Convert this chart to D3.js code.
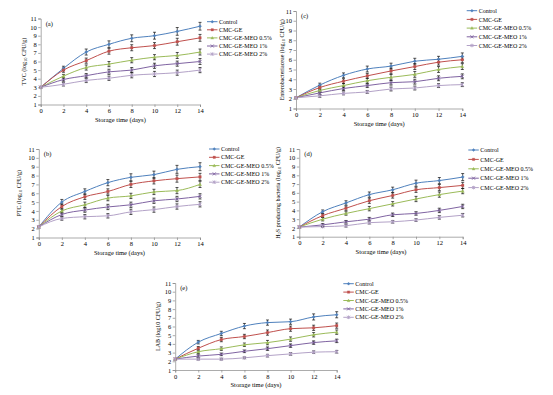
<!DOCTYPE html>
<html>
<head>
<script src="https://d3js.org/d3.v7.min.js"></script>
<style>
  body { margin: 0; background: #fff; }
  text { font-family: "Liberation Serif", "DejaVu Serif", serif; fill: #000; }
</style>
</head>
<body>
<div id="target"></div>
<script>
var days = [0, 2, 4, 6, 8, 10, 12, 14];
var seriesNames = ["Control", "CMC-GE", "CMC-GE-MEO 0.5%", "CMC-GE-MEO 1%", "CMC-GE-MEO 2%"];
var yTicks = [1, 2, 3, 4, 5, 6, 7, 8, 9, 10, 11];

// (a) TVC
var tvc = [
    [3.0, 5.2, 7.1, 8.0, 8.7, 9.0, 9.5, 10.1],
    [3.0, 5.0, 6.1, 7.2, 7.6, 7.85, 8.3, 8.75],
    [3.0, 4.3, 5.3, 5.7, 6.15, 6.5, 6.7, 7.1],
    [3.0, 3.9, 4.35, 4.8, 5.0, 5.5, 5.75, 6.0],
    [3.0, 3.35, 3.8, 4.05, 4.4, 4.55, 4.7, 5.0]
];
var tvcErr = [
    [0.1, 0.25, 0.35, 0.4, 0.4, 0.4, 0.45, 0.45],
    [0.1, 0.25, 0.3, 0.35, 0.35, 0.35, 0.4, 0.4],
    [0.1, 0.2, 0.3, 0.3, 0.3, 0.3, 0.35, 0.35],
    [0.1, 0.2, 0.25, 0.3, 0.3, 0.3, 0.3, 0.35],
    [0.1, 0.2, 0.25, 0.25, 0.3, 0.3, 0.3, 0.3]
];

// (b) PTC
var ptc = [
    [2.2, 5.0, 6.2, 7.2, 7.8, 8.1, 8.7, 9.0],
    [2.2, 4.5, 5.6, 6.2, 7.0, 7.4, 7.65, 7.85],
    [2.2, 4.0, 4.7, 5.45, 5.7, 6.15, 6.3, 7.0],
    [2.2, 3.6, 4.1, 4.45, 4.7, 5.15, 5.35, 5.65],
    [2.2, 3.15, 3.35, 3.45, 3.9, 4.15, 4.5, 4.75]
];
var ptcErr = [
    [0.1, 0.3, 0.3, 0.35, 0.4, 0.4, 0.45, 0.45],
    [0.1, 0.3, 0.3, 0.3, 0.35, 0.35, 0.4, 0.4],
    [0.1, 0.25, 0.3, 0.3, 0.3, 0.3, 0.35, 0.35],
    [0.1, 0.25, 0.25, 0.3, 0.3, 0.3, 0.3, 0.3],
    [0.1, 0.2, 0.25, 0.25, 0.3, 0.3, 0.3, 0.3]
];

// (c) Enterobacteriaceae
var entero = [
    [2.1, 3.4, 4.4, 5.05, 5.35, 5.85, 6.05, 6.35],
    [2.1, 3.15, 3.8, 4.35, 4.85, 5.3, 5.75, 6.0],
    [2.1, 2.85, 3.35, 3.85, 4.2, 4.5, 5.0, 5.3],
    [2.1, 2.6, 3.05, 3.35, 3.65, 3.75, 4.1, 4.3],
    [2.1, 2.3, 2.55, 2.7, 3.0, 3.1, 3.35, 3.45]
];
var enteroErr = [
    [0.1, 0.2, 0.25, 0.3, 0.3, 0.3, 0.3, 0.35],
    [0.1, 0.2, 0.25, 0.25, 0.3, 0.3, 0.3, 0.3],
    [0.1, 0.2, 0.2, 0.25, 0.3, 0.3, 0.3, 0.3],
    [0.1, 0.2, 0.2, 0.2, 0.25, 0.25, 0.25, 0.25],
    [0.1, 0.15, 0.15, 0.15, 0.2, 0.2, 0.2, 0.2]
];

// (d) H2S producing bacteria
var h2s = [
    [2.1, 3.85, 4.85, 5.8, 6.35, 7.1, 7.4, 7.8],
    [2.1, 3.4, 4.25, 5.1, 5.7, 6.35, 6.6, 6.85],
    [2.1, 3.0, 3.65, 4.2, 4.75, 5.3, 5.8, 6.2],
    [2.1, 2.35, 2.7, 3.0, 3.5, 3.65, 4.0, 4.45],
    [2.1, 2.15, 2.25, 2.6, 2.7, 2.9, 3.2, 3.45]
];
var h2sErr = [
    [0.1, 0.2, 0.25, 0.3, 0.3, 0.35, 0.35, 0.4],
    [0.1, 0.2, 0.25, 0.3, 0.3, 0.3, 0.35, 0.35],
    [0.1, 0.2, 0.2, 0.25, 0.25, 0.3, 0.3, 0.3],
    [0.1, 0.15, 0.15, 0.2, 0.2, 0.2, 0.25, 0.25],
    [0.1, 0.1, 0.15, 0.15, 0.15, 0.15, 0.2, 0.2]
];

// (e) LAB
var lab = [
    [2.25, 4.2, 5.2, 6.05, 6.45, 6.55, 7.1, 7.35],
    [2.25, 3.5, 4.5, 4.85, 5.3, 5.75, 5.85, 6.1],
    [2.25, 3.1, 3.45, 3.9, 4.15, 4.55, 5.05, 5.35],
    [2.25, 2.6, 2.8, 3.15, 3.45, 3.8, 4.15, 4.35],
    [2.25, 2.25, 2.25, 2.4, 2.65, 2.85, 3.05, 3.1]
];
var labErr = [
    [0.1, 0.2, 0.25, 0.3, 0.3, 0.3, 0.35, 0.35],
    [0.1, 0.2, 0.25, 0.25, 0.3, 0.3, 0.3, 0.3],
    [0.1, 0.2, 0.2, 0.2, 0.25, 0.25, 0.25, 0.25],
    [0.1, 0.15, 0.15, 0.15, 0.2, 0.2, 0.2, 0.2],
    [0.1, 0.1, 0.1, 0.1, 0.15, 0.15, 0.15, 0.15]
];

var colors = ["#4F81BD", "#C0504D", "#9BBB59", "#8064A2", "#B3A2C7"];

var svg = d3.select('#target')
    .append('svg')
    .attr('width', 553)
    .attr('height', 395);

var panels = [
    {tag: "(a)", data: tvc, err: tvcErr, x0: 40.7, x1: 200, top: 18.5, bot: 104.5,
     legX: 207, legY: 21.7, legDy: 8.1, yLabX: 25.5, yLab: ["TVC (log", "10", " CFU/g)"]},
    {tag: "(b)", data: ptc, err: ptcErr, x0: 38.8, x1: 200, top: 149, bot: 237.5,
     legX: 209, legY: 149, legDy: 8.3, yLabX: 20.5, yLab: ["PTC  (log", "10", " CFU/g)"]},
    {tag: "(c)", data: entero, err: enteroErr, x0: 296, x1: 462.3, top: 11, bot: 108.5,
     legX: 466.7, legY: 10.7, legDy: 8.7, yLabX: 283.5, yLab: ["Enterobacteriaceae (log", "10", " CFU/g)"]},
    {tag: "(d)", data: h2s, err: h2sErr, x0: 299.3, x1: 462.7, top: 149, bot: 236.7,
     legX: 468.3, legY: 150, legDy: 9.4, yLabX: 279.5, yLab: ["H", "2", "S producing bacteria (log", "10", " CFU/g)"]},
    {tag: "(e)", data: lab, err: labErr, x0: 175.2, x1: 336.7, top: 283, bot: 370,
     legX: 343.3, legY: 283.7, legDy: 8.4, yLabX: 159.5, yLab: ["LAB (log10 CFU/g)"]}
];

function markerPath(i, size) {
    var s = size;
    if (i === 0) return "M0," + (-s) + "L" + s + ",0L0," + s + "L" + (-s) + ",0Z";
    if (i === 1) return "M" + (-s * 0.8) + "," + (-s * 0.8) + "h" + (s * 1.6) + "v" + (s * 1.6) + "h" + (-s * 1.6) + "Z";
    if (i === 2) return "M0," + (-s) + "L" + s + "," + (s * 0.8) + "L" + (-s) + "," + (s * 0.8) + "Z";
    if (i === 3) return "M" + (-s) + "," + (-s) + "L" + s + "," + s + "M" + s + "," + (-s) + "L" + (-s) + "," + s;
    return "M" + (-s) + "," + (-s) + "L" + s + "," + s + "M" + s + "," + (-s) + "L" + (-s) + "," + s + "M0," + (-s * 1.2) + "V" + (s * 1.2);
}

function drawMarker(g, i, x, y, size) {
    var p = g.append('path')
        .attr('transform', 'translate(' + x + ',' + y + ')')
        .attr('d', markerPath(i, size));
    if (i >= 3) {
        p.attr('fill', 'none').attr('stroke', colors[i]).attr('stroke-width', 0.9);
    } else {
        p.attr('fill', colors[i]).attr('stroke', colors[i]).attr('stroke-width', 0.3);
    }
}

panels.forEach(function(p) {
    var x = d3.scaleLinear().domain([0, 14]).range([p.x0, p.x1]);
    var y = d3.scaleLinear().domain([1, 11]).range([p.bot, p.top]);
    var g = svg.append('g');

    // axes
    var xAxis = g.append('g')
        .attr('transform', 'translate(0,' + p.bot + ')')
        .call(d3.axisBottom(x).tickValues(days).tickSize(2.5).tickPadding(1.5));
    var yAxis = g.append('g')
        .attr('transform', 'translate(' + p.x0 + ',0)')
        .call(d3.axisLeft(y).tickValues(yTicks).tickSize(2.5).tickPadding(1.5));
    [xAxis, yAxis].forEach(function(a) {
        a.selectAll('path, line').attr('stroke', '#888').attr('stroke-width', 0.7);
        a.selectAll('text').style('font-size', '6.5px').style('font-family', '"Liberation Serif", serif');
    });

    // x label
    g.append('text')
        .attr('x', (p.x0 + p.x1) / 2)
        .attr('y', p.bot + 17)
        .attr('text-anchor', 'middle')
        .style('font-size', '6.5px')
        .text('Storage time (days)');

    // y label with subscripts
    var yl = g.append('text')
        .attr('transform', 'translate(' + p.yLabX + ',' + ((p.top + p.bot) / 2) + ')rotate(-90)')
        .attr('text-anchor', 'middle')
        .style('font-size', '6px');
    p.yLab.forEach(function(t, k) {
        var sub = p.yLab.length > 1 && k % 2 === 1;
        yl.append('tspan')
            .attr('dy', sub ? '1.2' : (k > 0 ? '-1.2' : '0'))
            .style('font-size', sub ? '4.5px' : '6px')
            .text(t);
    });

    // panel tag
    g.append('text')
        .attr('x', p.x0 + 5)
        .attr('y', p.top + 7)
        .style('font-size', '6.5px')
        .text(p.tag);

    var line = d3.line()
        .x(function(d, i) { return x(days[i]); })
        .y(function(d) { return y(d); })
        .curve(d3.curveMonotoneX);

    p.data.forEach(function(vals, si) {
        g.append('path')
            .attr('d', line(vals))
            .attr('fill', 'none')
            .attr('stroke', colors[si])
            .attr('stroke-width', 1);
    });

    // error bars
    p.data.forEach(function(vals, si) {
        vals.forEach(function(v, i) {
            if (i === 0) return;
            var e = p.err[si][i];
            var cx = x(days[i]);
            g.append('path')
                .attr('d', 'M' + cx + ',' + y(v - e) + 'V' + y(v + e)
                    + 'M' + (cx - 1.5) + ',' + y(v - e) + 'h3'
                    + 'M' + (cx - 1.5) + ',' + y(v + e) + 'h3')
                .attr('stroke', '#111')
                .attr('stroke-width', 0.7)
                .attr('fill', 'none');
        });
    });

    // markers
    p.data.forEach(function(vals, si) {
        vals.forEach(function(v, i) {
            drawMarker(g, si, x(days[i]), y(v), 1.6);
        });
    });

    // legend
    seriesNames.forEach(function(name, si) {
        var ly = p.legY + si * p.legDy;
        g.append('line')
            .attr('x1', p.legX).attr('x2', p.legX + 10.5)
            .attr('y1', ly).attr('y2', ly)
            .attr('stroke', colors[si]).attr('stroke-width', 1);
        drawMarker(g, si, p.legX + 5.25, ly, 1.5);
        g.append('text')
            .attr('x', p.legX + 12)
            .attr('y', ly + 2.1)
            .style('font-size', '6px')
            .text(name);
    });
});
</script>
</body>
</html>
